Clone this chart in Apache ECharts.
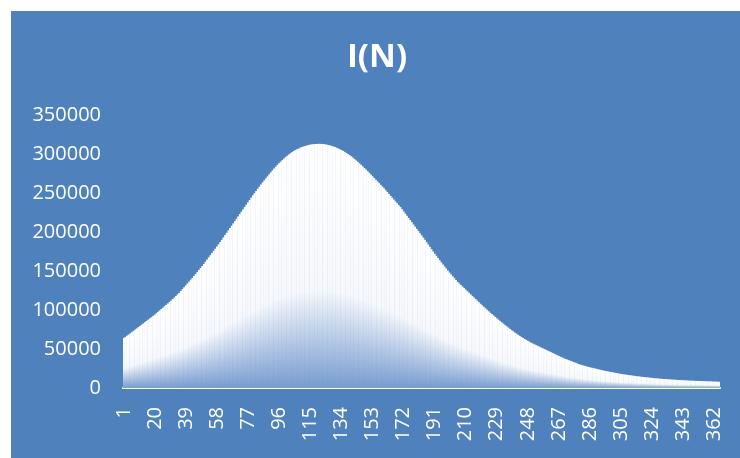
<!DOCTYPE html>
<html>
<head>
<meta charset="utf-8">
<script src="https://cdn.jsdelivr.net/npm/echarts@6/dist/echarts.min.js"></script>
<style>
  html, body { margin: 0; padding: 0; background: #ffffff; }
  #chart { width: 740px; height: 458px; }
</style>
</head>
<body>
<div id="chart"></div>
<script>
// I(N) values, one per day N = 1..365
const values = [
  64000, 65500, 67000, 68500, 70000,
  71600, 73200, 74800, 76400, 78000,
  79600, 81200, 82800, 84400, 86000,
  87600, 89200, 90800, 92400, 94000,
  95800, 97600, 99400, 101200, 103000,
  104800, 106600, 108400, 110200, 112000,
  114000, 116000, 118000, 120000, 122000,
  124400, 126800, 129200, 131600, 134000,
  136400, 138800, 141200, 143600, 146000,
  148600, 151200, 153800, 156400, 159000,
  161800, 164600, 167400, 170200, 173000,
  175800, 178600, 181400, 184200, 187000,
  190000, 193000, 196000, 199000, 202000,
  205000, 208000, 211000, 214000, 217000,
  220000, 223000, 226000, 229000, 232000,
  235000, 238000, 241000, 244000, 247000,
  249800, 252600, 255400, 258200, 261000,
  263600, 266200, 268800, 271400, 274000,
  276500, 279000, 281400, 283700, 286000,
  288100, 290200, 292200, 294100, 296000,
  297700, 299300, 300900, 302500, 304000,
  305100, 306100, 307100, 308100, 309000,
  309700, 310300, 310900, 311500, 312000,
  312300, 312600, 312800, 312900, 313000,
  313000, 312900, 312700, 312400, 312000,
  311500, 311000, 310400, 309700, 309000,
  308100, 307100, 306100, 305100, 304000,
  302700, 301300, 299900, 298500, 297000,
  295300, 293500, 291700, 289900, 288000,
  286000, 284000, 282000, 280000, 278000,
  275800, 273600, 271400, 269200, 267000,
  264800, 262600, 260400, 258200, 256000,
  253600, 251200, 248800, 246400, 244000,
  241600, 239200, 236800, 234400, 232000,
  229200, 226400, 223600, 220800, 218000,
  215200, 212400, 209600, 206800, 204000,
  201200, 198400, 195600, 192800, 190000,
  187000, 184000, 181000, 178000, 175000,
  172200, 169400, 166600, 163800, 161000,
  158400, 155800, 153200, 150600, 148000,
  145600, 143200, 140800, 138400, 136000,
  134000, 132000, 130000, 128000, 126000,
  124000, 122000, 120000, 118000, 116000,
  114000, 112000, 110000, 108000, 106000,
  104100, 102200, 100300, 98400, 96500,
  94700, 92900, 91100, 89300, 87500,
  85800, 84100, 82400, 80700, 79000,
  77400, 75800, 74200, 72600, 71000,
  69600, 68200, 66800, 65400, 64000,
  62800, 61600, 60400, 59200, 58000,
  57000, 56000, 55000, 54000, 53000,
  52000, 51000, 50000, 49000, 48000,
  47000, 46000, 45000, 44000, 43000,
  42000, 41000, 40000, 39000, 38000,
  37200, 36400, 35600, 34800, 34000,
  33200, 32400, 31600, 30800, 30000,
  29400, 28800, 28200, 27600, 27000,
  26500, 26000, 25500, 25000, 24500,
  24000, 23500, 23000, 22500, 22000,
  21600, 21200, 20800, 20400, 20000,
  19600, 19200, 18800, 18400, 18000,
  17700, 17400, 17100, 16800, 16500,
  16200, 15900, 15600, 15300, 15000,
  14760, 14520, 14280, 14040, 13800,
  13580, 13360, 13140, 12920, 12700,
  12500, 12300, 12100, 11900, 11700,
  11560, 11420, 11280, 11140, 11000,
  10860, 10720, 10580, 10440, 10300,
  10180, 10060, 9940, 9820, 9700,
  9600, 9500, 9400, 9300, 9200,
  9120, 9040, 8960, 8880, 8800,
  8720, 8640, 8560, 8480, 8400,
  8320, 8240, 8160, 8080, 8000
];
// category labels N = 1, 2, 3, ...
const categories = values.map((v, i) => String(i + 1));
const titleText = 'I(N)';
const yMin = 0, yMax = 350000, yStep = 50000;

const chart = echarts.init(document.getElementById('chart'), null, { renderer: 'canvas' });
const FONT = '"Open Sans", Lato, sans-serif';

chart.setOption({
  backgroundColor: '#ffffff',
  animation: false,
  graphic: [{
    type: 'rect',
    z: -10,
    silent: true,
    shape: { x: 11, y: 11, width: 729, height: 447 },
    style: { fill: '#4F81BD' }
  }, {
    type: 'text',
    x: 377,
    y: 58,
    silent: true,
    style: {
      text: titleText,
      fill: '#ffffff',
      font: 'bold 33px "Open Sans", Lato, sans-serif',
      align: 'center',
      verticalAlign: 'middle'
    }
  }],
  grid: { left: 123, right: 20, top: 115, bottom: 70, containLabel: false },
  xAxis: {
    type: 'category',
    data: categories,
    boundaryGap: true,
    axisLine: { show: true, lineStyle: { color: '#ffffff', width: 2 } },
    axisTick: { show: false },
    splitLine: { show: false },
    axisLabel: {
      interval: 18,
      rotate: 90,
      margin: 19,
      color: '#ffffff',
      fontFamily: FONT,
      fontSize: 20
    }
  },
  yAxis: {
    type: 'value',
    min: yMin,
    max: yMax,
    interval: yStep,
    axisLine: { show: false },
    axisTick: { show: false },
    splitLine: { show: false },
    axisLabel: {
      margin: 22,
      color: '#ffffff',
      fontFamily: FONT,
      fontSize: 20,
      formatter: (v) => String(v)
    }
  },
  series: [{
    type: 'bar',
    data: values,
    barWidth: 2.1,
    itemStyle: {
      color: new echarts.graphic.LinearGradient(0, 0, 0, 1, [
        { offset: 0, color: '#ffffff' },
        { offset: 0.6, color: '#f6f8fc' },
        { offset: 1, color: '#789cd0' }
      ])
    }
  }]
});
</script>
</body>
</html>
